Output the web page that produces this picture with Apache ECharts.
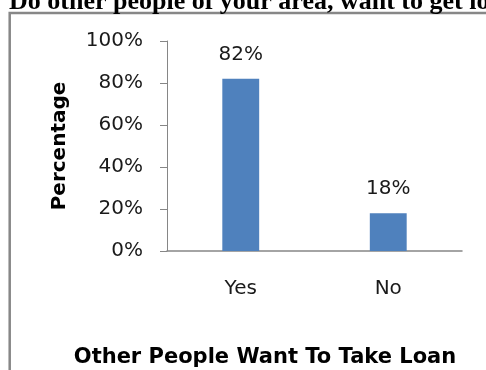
<!DOCTYPE html>
<html>
<head>
<meta charset="utf-8">
<script src="https://cdn.jsdelivr.net/npm/echarts@6/dist/echarts.min.js"></script>
<style>
  html, body { margin: 0; padding: 0; background: #fff; }
  #chart { width: 486px; height: 370px; }
</style>
</head>
<body>
<div id="chart"></div>
<script>
// Survey answers: share of respondents who say other people in their area want a loan
const categories = ['Yes', 'No'];
const percentages = [82, 18];
const yTicks = [0, 20, 40, 60, 80, 100];

const headingText = 'Do other people of your area, want to get loan?';
const xTitle = 'Other People Want To Take Loan';
const yTitle = 'Percentage';

const chart = echarts.init(document.getElementById('chart'), null, { renderer: 'canvas' });

const labelFont = 'DejaVu Sans';

chart.setOption({
  animation: false,
  backgroundColor: '#ffffff',
  grid: {
    left: 167, right: 24, top: 41, bottom: 119,
    containLabel: false,
    outerBoundsMode: 'none'
  },
  graphic: [
    {
      type: 'rect',
      shape: { x: 9.7, y: 13, width: 600, height: 500 },
      style: { fill: 'none', stroke: '#878787', lineWidth: 2.5 },
      silent: true
    },
    {
      type: 'text',
      left: 9,
      top: -11,
      style: {
        text: headingText,
        font: 'bold 26px "Liberation Serif", "Times New Roman", serif',
        fill: '#000000'
      },
      silent: true
    }
  ],
  xAxis: {
    type: 'category',
    data: categories,
    name: xTitle,
    nameLocation: 'middle',
    nameGap: 96,
    nameTextStyle: {
      fontFamily: labelFont,
      fontWeight: 'bold',
      fontSize: 21,
      color: '#000000',
      padding: [0, 99, 0, 0]
    },
    axisLine: { show: true, lineStyle: { color: '#868686', width: 1.5 } },
    axisTick: { show: false },
    axisLabel: {
      fontFamily: labelFont,
      fontSize: 20,
      color: '#1a1a1a',
      margin: 28
    },
    splitLine: { show: false }
  },
  yAxis: {
    type: 'value',
    min: yTicks[0],
    max: yTicks[yTicks.length - 1],
    interval: yTicks[1] - yTicks[0],
    name: yTitle,
    nameLocation: 'middle',
    nameGap: 97,
    nameRotate: 90,
    nameTextStyle: {
      fontFamily: labelFont,
      fontWeight: 'bold',
      fontSize: 20,
      color: '#000000'
    },
    axisLine: { show: true, lineStyle: { color: '#868686', width: 1 } },
    axisTick: { show: true, length: 7, lineStyle: { color: '#868686', width: 1 } },
    axisLabel: {
      fontFamily: labelFont,
      fontSize: 20,
      color: '#1a1a1a',
      margin: 24,
      formatter: v => v + '%'
    },
    splitLine: { show: false }
  },
  series: [
    {
      type: 'bar',
      data: percentages,
      barWidth: '25%',
      itemStyle: { color: '#4F81BD' },
      label: {
        show: true,
        position: 'top',
        distance: 14,
        fontFamily: labelFont,
        fontSize: 20,
        color: '#1a1a1a',
        formatter: p => p.value + '%'
      }
    }
  ]
});
</script>
</body>
</html>
